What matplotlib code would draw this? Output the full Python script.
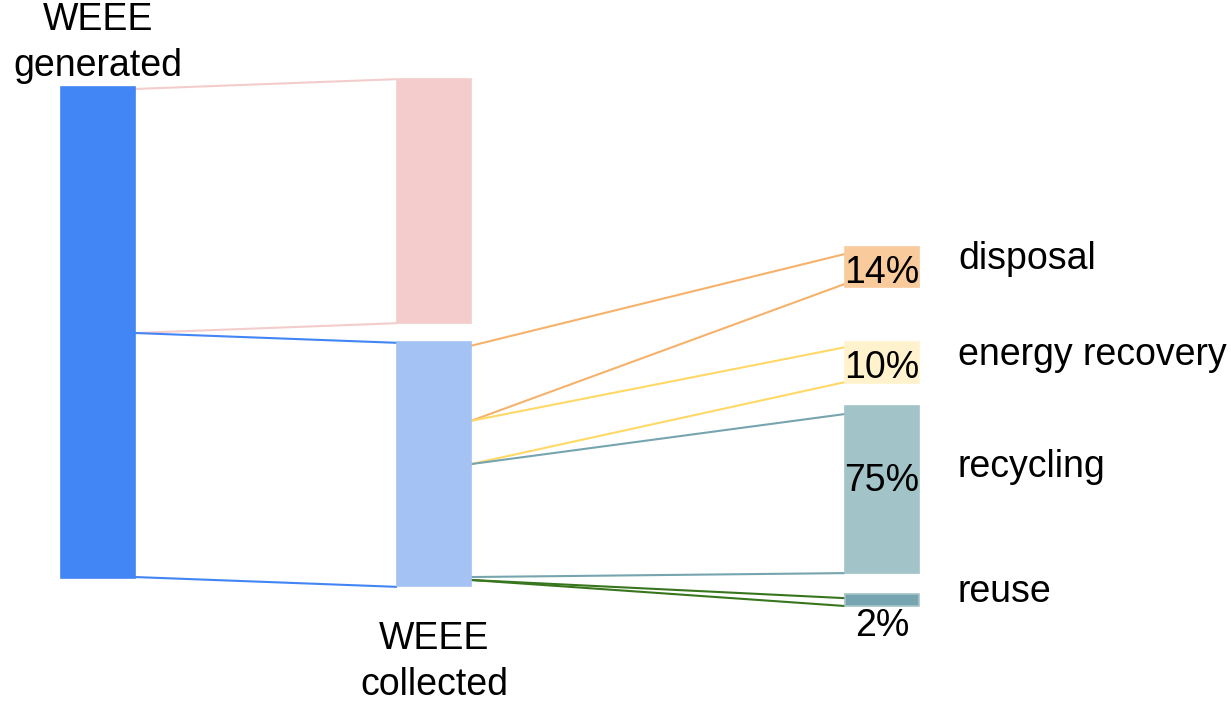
import matplotlib
matplotlib.use("Agg")
import matplotlib.pyplot as plt

# ==============================
# ДАННЫЕ (единицы: весь образованный WEEE = 100)
# ==============================

node_names = ["generated", "not collected", "collected",
              "disposal", "energy recovery", "recycling", "reuse"]
node_column = [0, 1, 1, 2, 2, 2, 2]
node_top = [0.0, -1.6, 51.9, 32.6, 51.9, 65.0, 103.3]
node_size = [100.0, 49.7, 49.7, 8.1, 8.4, 34.0, 2.4]
node_colors = ["#4285f4", "#f4cccc", "#a4c2f4",
               "#f9cb9c", "#fff2cc", "#a2c4c9", "#76a5af"]

fate_names = ["disposal", "energy recovery", "recycling", "reuse"]
fate_share = [14, 10, 75, 2]

# потоки: источник, цель, края у источника, края у цели
flow_source = [0, 0, 2, 2, 2, 2]
flow_target = [1, 2, 3, 4, 5, 6]
flow_src_edges = [(0.4, 50.1), (50.1, 99.8), (52.7, 68.0),
                  (68.0, 76.8), (76.8, 99.8), (100.4, 100.4)]
flow_tgt_edges = [(-1.6, 48.1), (52.1, 101.8), (34.0, 40.1),
                  (53.0, 60.1), (66.6, 99.0), (104.1, 105.7)]
flow_colors = ["#f4cccc", "#4285f4", "#f6b26b",
               "#ffd966", "#76a5af", "#38761d"]

# ==============================
# РАЗМЕТКА
# ==============================

col_x = [61, 397, 845]
bar_w = 74
FS = 27
FONT = ["Liberation Sans", "DejaVu Sans"]

fig = plt.figure(figsize=(12.31, 7.02), dpi=100)
ax = fig.add_axes([0, 0, 1, 1])
ax.set_xlim(0, 1231)
ax.set_ylim(125.25, -17.72)
ax.axis("off")

# потоки (только контуры)
for s, t, se, te, c in zip(flow_source, flow_target, flow_src_edges,
                           flow_tgt_edges, flow_colors):
    x0 = col_x[node_column[s]] + bar_w
    x1 = col_x[node_column[t]]
    for k in range(2):
        ax.plot([x0, x1], [se[k], te[k]], color=c, lw=1.5,
                solid_capstyle="butt", zorder=2)

# узлы
for i in range(len(node_names)):
    ec = "#a2c4c9" if node_names[i] == "reuse" else node_colors[i]
    ax.bar(col_x[node_column[i]], node_size[i], bottom=node_top[i],
           width=bar_w, align="edge", color=node_colors[i],
           edgecolor=ec, lw=1.2, zorder=3)

# подписи этапов
stage_lines = [["WEEE", "generated"], ["WEEE", "collected"]]
stage_x = [98, 434]
stage_y = [[-11.6, -2.2], [114.5, 123.9]]
for lines, x, ys in zip(stage_lines, stage_x, stage_y):
    for txt, y in zip(lines, ys):
        ax.text(x, y, txt, ha="center", va="baseline",
                fontsize=FS, family=FONT, zorder=4)

# подписи итогов
name_y = [37.1, 56.6, 79.4, 104.9]
pct_y = [39.9, 59.3, 82.3, 111.8]
for name, p, ny, py in zip(fate_names, fate_share, name_y, pct_y):
    ax.text(958, ny, name, ha="left", va="baseline",
            fontsize=FS, family=FONT, zorder=4)
    ax.text(col_x[2] + bar_w / 2, py, f"{p}%", ha="center",
            va="baseline", fontsize=FS, family=FONT, zorder=4)

fig.savefig("out.png", dpi=100)
